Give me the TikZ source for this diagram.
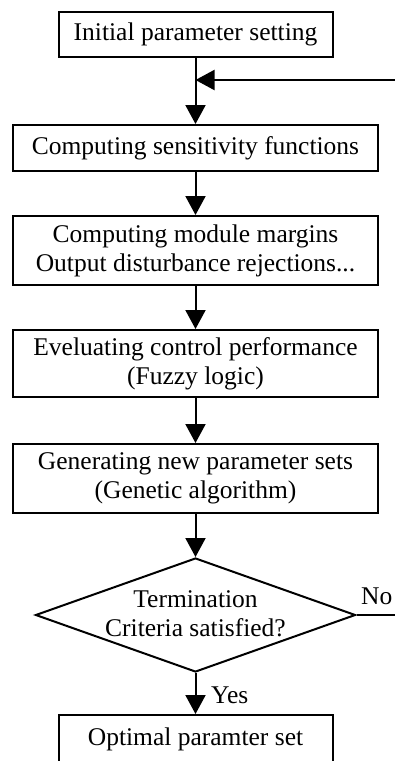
\documentclass[tikz,border=0pt]{standalone}
\usepackage{fontspec}
\setmainfont{Liberation Serif}
\usetikzlibrary{arrows.meta,shapes.geometric}
\begin{document}
\begin{tikzpicture}[x=1pt,y=-1pt,
  every node/.style={font=\fontsize{25.5}{29}\selectfont},
  box/.style={draw,line width=2pt,inner sep=0pt,align=center,minimum width=#1},
  wbox/.style={box=365pt},
  nbox/.style={box=274pt},
  conn/.style={line width=2pt,-{Triangle[length=19pt,width=20pt]}},
  plain/.style={line width=2pt}]
\useasboundingbox (0,0) rectangle (395,761);
\node[nbox,minimum height=45pt] (b1) at (195.5,34.5) {Initial parameter setting};
\node[wbox,minimum height=46pt] (b2) at (195.5,148) {Computing sensitivity functions};
\node[wbox,minimum height=69pt] (b3) at (195.5,250.5) {Computing module margins\\Output disturbance rejections...};
\node[wbox,minimum height=67pt] (b4) at (195.5,363.5) {Eveluating control performance\\(Fuzzy logic)};
\node[wbox,minimum height=69pt] (b5) at (195.5,478.5) {Generating new parameter sets\\(Genetic algorithm)};
\node[diamond,draw,line width=2pt,inner sep=0pt,minimum width=320pt,minimum height=114pt,aspect=2.807] (dec) at (195.5,615) {};
\node[align=center] (dect) at (195.5,614) {Termination\\Criteria satisfied?};
\node[nbox,minimum height=48pt] (b6) at (195.5,739) {Optimal paramter set};
\coordinate (fb) at (396,80);
\coordinate (j) at (195.5,80);
\coordinate (noend) at (396,615);
\draw[plain] (b1.south) -- (j);
\draw[conn] (j) -- (b2.north);
\draw[conn] (fb) -- (j);
\draw[conn] (b2.south) -- (b3.north);
\draw[conn] (b3.south) -- (b4.north);
\draw[conn] (b4.south) -- (b5.north);
\draw[conn] (b5.south) -- (dec.north);
\draw[conn] (dec.south) -- (b6.north);
\draw[plain] (dec.east) -- (noend);
\node[anchor=west,inner sep=0pt] (yes) at (211,695) {Yes};
\node[anchor=west,inner sep=0pt] (no) at (361,596) {No};
\end{tikzpicture}
\end{document}
